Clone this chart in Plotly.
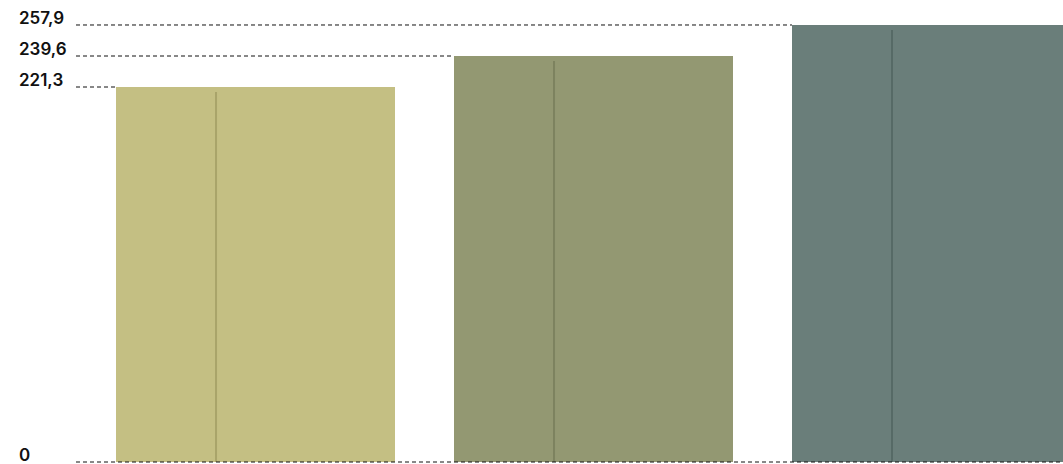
import plotly.graph_objects as go

# ---- data ----
categories = [0, 1, 2]
values = [221.3, 239.6, 257.9]
tick_values = [0, 221.3, 239.6, 257.9]
tick_labels = ["0", "221,3", "239,6", "257,9"]

# ---- style ----
bar_colors = ["#C4BF83", "#939872", "#6A7E7A"]
crease_colors = ["#A9A46A", "#7D835F", "#566A66"]
W, H = 1063, 464
px_per_unit_y = 1.6945
px_per_unit_x = 338.0
bar_width = 0.8254
x_left = -255.5 / px_per_unit_x
x_right = x_left + W / px_per_unit_x
y_min = -2 / px_per_unit_y
y_max = y_min + H / px_per_unit_y
line_start = x_left + 76 / px_per_unit_x

fig = go.Figure()
fig.add_trace(go.Bar(
    x=categories, y=values, width=bar_width,
    marker=dict(color=bar_colors, line=dict(width=0)),
    hoverinfo="skip", showlegend=False,
))

shapes = []
# dashed guide lines from label to bar top
for i, v in zip(categories, values):
    shapes.append(dict(type="line", xref="x", yref="y",
                       x0=line_start, x1=i - bar_width / 2, y0=v, y1=v,
                       line=dict(color="#111111", width=1, dash="4px,3px"),
                       layer="above"))
    # crease line inside each bar
    cx = i - bar_width / 2 + 100 / px_per_unit_x
    shapes.append(dict(type="line", xref="x", yref="y",
                       x0=cx, x1=cx, y0=0, y1=v - 5 / px_per_unit_y,
                       line=dict(color=crease_colors[i], width=2),
                       layer="above"))
# zero baseline
shapes.append(dict(type="line", xref="x", yref="y",
                   x0=line_start, x1=x_right, y0=0, y1=0,
                   line=dict(color="#111111", width=1, dash="4px,3px"),
                   layer="above"))

annotations = []
for tv, tl in zip(tick_values, tick_labels):
    annotations.append(dict(
        xref="paper", yref="y", x=17 / W, y=tv, xanchor="left", yanchor="middle",
        yshift=7, text=tl, showarrow=False,
        font=dict(family="Inter", size=17, color="#111111", weight=600),
    ))

fig.update_layout(
    width=W, height=H,
    margin=dict(l=0, r=0, t=0, b=0),
    paper_bgcolor="white", plot_bgcolor="white",
    xaxis=dict(range=[x_left, x_right], visible=False, fixedrange=True),
    yaxis=dict(range=[y_min, y_max], visible=False, fixedrange=True),
    shapes=shapes, annotations=annotations,
    bargap=0,
)

fig.write_html("out.html", config={"displayModeBar": False},
               post_script="document.body.style.margin='0';document.body.style.overflow='hidden';")
